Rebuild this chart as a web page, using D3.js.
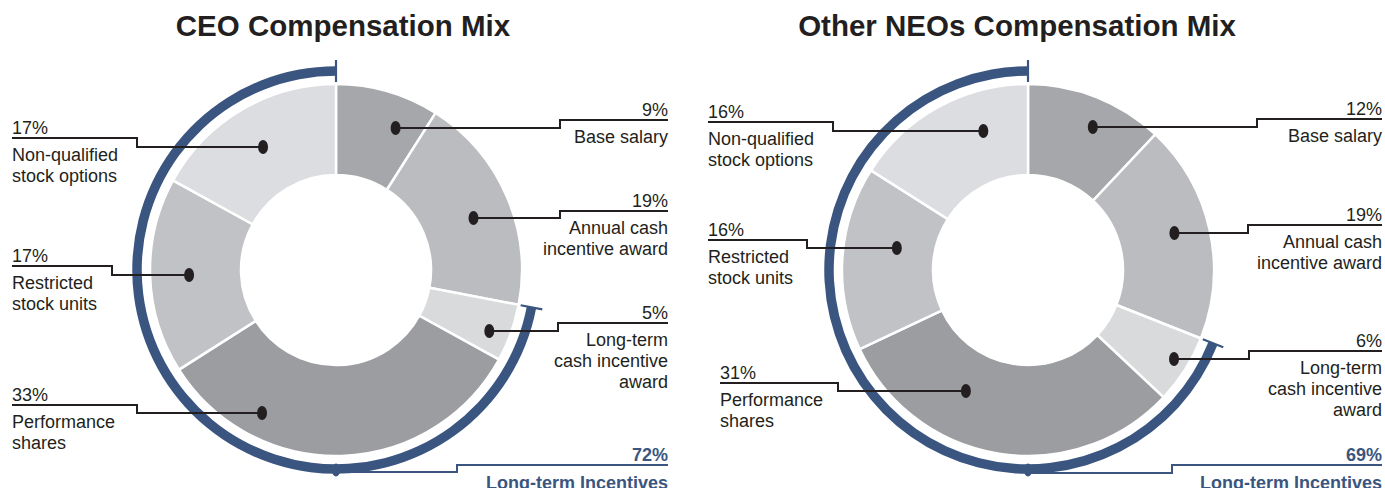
<!DOCTYPE html>
<html><head><meta charset="utf-8">
<script src="https://cdn.jsdelivr.net/npm/d3@7"></script>
<style>
body{margin:0;background:#fff}
svg{display:block}
text{font-family:"Liberation Sans",Arial,Helvetica,sans-serif}
</style>
</head><body>
<svg id="c" width="1385" height="488"></svg>
<script>
// ---------- data ----------
const chartTitles = ["CEO Compensation Mix", "Other NEOs Compensation Mix"];
const categories = ["Base salary", "Annual cash incentive award", "Long-term cash incentive award",
  "Performance shares", "Restricted stock units", "Non-qualified stock options"];
const categoryLines = [["Base salary"], ["Annual cash", "incentive award"], ["Long-term", "cash incentive", "award"],
  ["Performance", "shares"], ["Restricted", "stock units"], ["Non-qualified", "stock options"]];
const ceoValues = [9, 19, 5, 33, 17, 17];
const neoValues = [12, 19, 6, 31, 16, 16];
const longTermFirstIndex = 2;          // LT cash, PS, RSU, NQSO are long-term
const longTermLabel = "Long-term Incentives";
const ceoLongTerm = 72;
const neoLongTerm = 69;

// ---------- style / layout ----------
const sliceColors = ["#a6a7aa", "#bbbcbf", "#d9dadc", "#9c9da0", "#c1c2c5", "#dcdde0"];
const blue = "#3a5680";
const ink = "#231f20";
const FS = 18;

const layouts = [
  { cx: 336, cy: 270, titleX: 343,
    labels: [
      {side: "right", x: 668, uy: 120, dy: 128, stepX: 560, dotR: 154},
      {side: "right", x: 668, uy: 211, dy: 218, stepX: 560, dotR: 147},
      {side: "right", x: 668, uy: 323, dy: 331, stepX: 558, dotR: 165},
      {side: "left",  x: 12,  uy: 405, dy: 413, stepX: 137, dotR: 161},
      {side: "left",  x: 12,  uy: 266, dy: 275, stepX: 112, dotR: 147},
      {side: "left",  x: 12,  uy: 138, dy: 147, stepX: 137, dotR: 143}
    ],
    lt: {x: 668, uy: 465, dy: 472, stepX: 457}
  },
  { cx: 1028, cy: 270, titleX: 1017,
    labels: [
      {side: "right", x: 1382, uy: 119, dy: 127, stepX: 1257, dotR: 157},
      {side: "right", x: 1382, uy: 225, dy: 233, stepX: 1248, dotR: 151},
      {side: "right", x: 1382, uy: 351, dy: 359, stepX: 1249, dotR: 171},
      {side: "left",  x: 720,  uy: 383, dy: 391, stepX: 838, dotR: 136},
      {side: "left",  x: 708,  uy: 240, dy: 248, stepX: 807, dotR: 133},
      {side: "left",  x: 708,  uy: 122, dy: 131, stepX: 833, dotR: 146}
    ],
    lt: {x: 1382, uy: 465, dy: 473, stepX: 1172}
  }
];

const rOuter = 186, rInner = 95, rBlue = 199, blueW = 9.5;

const svg = d3.select("#c");
svg.append("rect").attr("width", 1385).attr("height", 488).attr("fill", "#fff");

const pie = d3.pie().sort(null).value(d => d).startAngle(0).endAngle(2 * Math.PI);
const color = d3.scaleOrdinal().domain(categories).range(sliceColors);

function drawChart(values, ltTotal, L, title) {
  const g = svg.append("g");
  const cx = L.cx, cy = L.cy;
  const pt = (a, r) => [cx + r * Math.sin(a), cy - r * Math.cos(a)];

  g.append("text").attr("x", L.titleX).attr("y", 36).attr("text-anchor", "middle")
    .attr("font-size", 29.5).attr("font-weight", "bold").attr("fill", ink).text(title);

  const slices = pie(values);
  const arc = d3.arc().innerRadius(rInner).outerRadius(rOuter);
  const pg = g.append("g").attr("transform", `translate(${cx},${cy})`);
  pg.selectAll("path").data(slices).join("path")
    .attr("d", arc).attr("fill", (d, i) => color(categories[i]))
    .attr("stroke", "#fff").attr("stroke-width", 2.5);

  // long-term bracket arc
  const a0 = slices[longTermFirstIndex].startAngle;
  const a1 = slices[slices.length - 1].endAngle;
  const blueArc = d3.arc().innerRadius(rBlue - blueW / 2).outerRadius(rBlue + blueW / 2)
    .startAngle(a0).endAngle(a1);
  pg.append("path").attr("d", blueArc()).attr("fill", blue);
  [a0, a1].forEach(a => {
    const p1 = pt(a, rBlue - 11), p2 = pt(a, rBlue + 11);
    g.append("line").attr("x1", p1[0]).attr("y1", p1[1]).attr("x2", p2[0]).attr("y2", p2[1])
      .attr("stroke", blue).attr("stroke-width", 2.2);
  });
  const mid = pt(Math.PI, rBlue);
  g.append("ellipse").attr("cx", mid[0]).attr("cy", mid[1] + 1).attr("rx", 4.2).attr("ry", 6.5).attr("fill", blue);
  const lt = L.lt;
  g.append("path").attr("fill", "none").attr("stroke", blue).attr("stroke-width", 2)
    .attr("d", `M${mid[0]},${lt.dy}H${lt.stepX}V${lt.uy}H${lt.x}`);
  g.append("text").attr("x", lt.x).attr("y", lt.uy - 4).attr("text-anchor", "end")
    .attr("font-size", FS).attr("font-weight", "bold").attr("fill", blue).text(ltTotal + "%");
  g.append("text").attr("x", lt.x).attr("y", lt.uy + 24).attr("text-anchor", "end")
    .attr("font-size", FS).attr("font-weight", "bold").attr("fill", blue).text(longTermLabel);

  // labels & leaders
  slices.forEach((s, i) => {
    const lab = L.labels[i];
    const sign = lab.side === "right" ? 1 : -1;
    const ddy = lab.dy - cy;
    const dotX = cx + sign * Math.sqrt(Math.max(0, lab.dotR * lab.dotR - ddy * ddy));
    g.append("path").attr("fill", "none").attr("stroke", ink).attr("stroke-width", 2)
      .attr("d", `M${lab.x},${lab.uy}H${lab.stepX}V${lab.dy}H${dotX}`);
    g.append("ellipse").attr("cx", dotX).attr("cy", lab.dy).attr("rx", 5).attr("ry", 7).attr("fill", ink);
    const anchor = lab.side === "right" ? "end" : "start";
    g.append("text").attr("x", lab.x).attr("y", lab.uy - 4).attr("text-anchor", anchor)
      .attr("font-size", FS).attr("fill", ink).text(s.data + "%");
    categoryLines[i].forEach((line, k) => {
      g.append("text").attr("x", lab.x).attr("y", lab.uy + 23 + k * 21).attr("text-anchor", anchor)
        .attr("font-size", FS).attr("fill", ink).text(line);
    });
  });
}

drawChart(ceoValues, ceoLongTerm, layouts[0], chartTitles[0]);
drawChart(neoValues, neoLongTerm, layouts[1], chartTitles[1]);
</script>
</body></html>
